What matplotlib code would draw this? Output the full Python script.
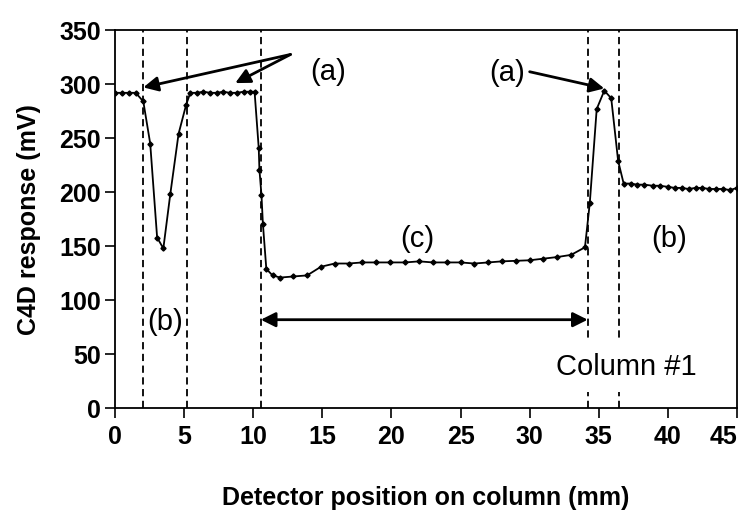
import matplotlib
matplotlib.use('Agg')
import matplotlib.pyplot as plt
import numpy as np

plt.rcParams['font.family'] = ['Liberation Sans', 'DejaVu Sans']

# detector position (mm) and C4D response (mV)
pos_mm = [0, 0.5, 1.0, 1.5, 2.05, 2.55, 3.05, 3.5, 4.0, 4.6, 5.15, 5.45, 5.9, 6.4,
          6.9, 7.35, 7.85, 8.3, 8.8, 9.3, 9.8, 10.1, 10.4, 10.45, 10.6, 10.7, 10.95,
          11.4, 11.95, 12.9, 13.9, 14.9, 15.9, 16.9, 17.9, 18.9, 19.9, 21.0, 22.0,
          23.0, 24.0, 25.0, 26.0, 27.0, 28.0, 29.0, 30.0, 31.0, 32.0, 33.0, 34.0,
          34.35, 34.85, 35.4, 35.9, 36.4, 36.8, 37.3, 37.8, 38.3, 38.9, 39.4, 40.0,
          40.5, 41.0, 41.5, 42.0, 42.5, 43.0, 43.5, 44.0, 44.5, 45.0]
response_mv = [292, 292, 292, 292, 284, 245, 158, 148, 198, 254, 281, 292, 292, 293,
               292, 292, 293, 292, 292, 293, 293, 293, 241, 221, 197, 171, 129,
               123, 121, 122, 123, 131, 134, 134, 135, 135, 135, 135, 136,
               135, 135, 135, 134, 135, 136, 136.5, 137, 138.5, 140, 142, 149,
               190, 277, 294, 287, 229, 208, 208, 207, 207, 206, 206, 205,
               204, 204, 203, 204, 204, 203, 203, 203, 202, 204]

# zone boundaries (dashed lines)
zone_edges = [2.0, 5.2, 10.55, 34.2, 36.45]

x_ticks = np.arange(0, 46, 5)
y_ticks = np.arange(0, 351, 50)

fig = plt.figure(figsize=(7.48, 5.11), dpi=100)
ax = fig.add_axes([0.1537, 0.201, 0.8316, 0.740])

for xe in zone_edges:
    ax.axvline(xe, color='k', lw=1.3, ls=(0, (4, 2.5)), zorder=1)

ax.plot(pos_mm, response_mv, color='k', lw=1.3, marker='D', ms=2.6, zorder=3)

ax.set_xlim(0, 45)
ax.set_ylim(0, 350)
ax.set_xticks(x_ticks)
ax.set_yticks(y_ticks)
ax.tick_params(direction='out', length=7, width=1.2, labelsize=18)
ax.tick_params(axis='x', pad=5)
ax.tick_params(axis='y', pad=3)
for lbl in ax.get_xticklabels() + ax.get_yticklabels():
    lbl.set_fontweight('bold')
# last x label sits right at the figure edge; keep it inside
ax.get_xticklabels()[-1].set_horizontalalignment('right')
ax.get_xticklabels()[-1].set_x(45.6)
for sp in ax.spines.values():
    sp.set_linewidth(1.3)

ax.set_xlabel('Detector position on column (mm)', fontsize=18, fontweight='bold', labelpad=27)
ax.set_ylabel('C4D response (mV)', fontsize=18, fontweight='bold', labelpad=13)

arrow = dict(arrowstyle='-|>', color='k', lw=2, mutation_scale=22, shrinkA=0, shrinkB=0)
ax.text(15.4, 311, '(a)', fontsize=21, ha='center', va='center')
ax.annotate('', xy=(2.05, 297), xytext=(12.7, 327.5), arrowprops=arrow)
ax.annotate('', xy=(8.7, 301), xytext=(12.7, 327.5), arrowprops=arrow)
ax.text(28.35, 310, '(a)', fontsize=21, ha='center', va='center')
ax.annotate('', xy=(35.4, 296), xytext=(30.0, 311.5), arrowprops=arrow)

ax.text(21.9, 157, '(c)', fontsize=21, ha='center', va='center')
ax.text(3.62, 80, '(b)', fontsize=21, ha='center', va='center')
ax.text(40.1, 157, '(b)', fontsize=21, ha='center', va='center')

ax.annotate('', xy=(10.55, 82), xytext=(34.2, 82),
            arrowprops=dict(arrowstyle='<|-|>', color='k', lw=2, mutation_scale=22,
                            shrinkA=0, shrinkB=0))

ax.text(36.96, 38, 'Column #1', fontsize=21, ha='center', va='center', zorder=4,
        bbox=dict(facecolor='white', edgecolor='none', pad=8))

plt.savefig('out.png', dpi=100)
